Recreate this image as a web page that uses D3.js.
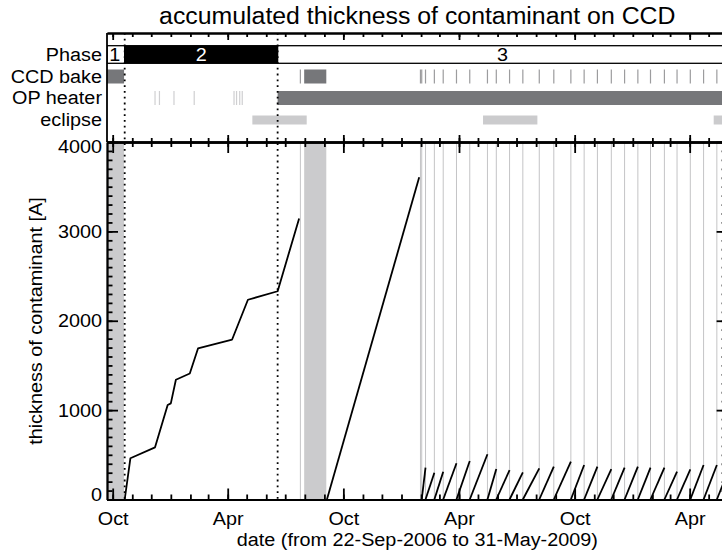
<!DOCTYPE html>
<html><head><meta charset="utf-8">
<script src="https://cdn.jsdelivr.net/npm/d3@7"></script>
<style>body{margin:0;background:#fff}svg{display:block}text{font-family:"Liberation Sans",Arial,Helvetica,sans-serif}</style>
</head><body>
<svg id="c" width="722" height="558"></svg>
<script>
// ---------------- data ----------------
const titleText = "accumulated thickness of contaminant on CCD";
const xLabelText = "date (from 22-Sep-2006 to 31-May-2009)";
const yLabelText = "thickness of contaminant [A]";
const dateStart = "2006-09-22";
const dateEnd = "2009-05-31";

const rowLabels = ["Phase", "CCD bake", "OP heater", "eclipse"];

const phaseNames = ["1", "2", "3"];
const phaseStart = ["2006-09-22", "2006-10-20", "2007-06-19"];
const phaseEnd   = ["2006-10-20", "2007-06-19", "2009-05-31"];
const phaseBoundaries = ["2006-10-20", "2007-06-19"];

// long CCD bakes (bands)
const bakeStart = ["2006-09-22", "2007-07-31"];
const bakeEnd   = ["2006-10-19", "2007-09-04"];
// short CCD bakes (single lines)
const shortBakes = ["2007-07-25", "2008-01-31", "2008-02-02", "2008-02-08", "2008-02-22", "2008-03-07",
  "2008-03-28", "2008-04-18", "2008-05-16", "2008-05-30", "2008-06-20", "2008-07-11", "2008-08-06",
  "2008-08-29", "2008-09-25", "2008-10-16", "2008-11-06", "2008-11-28", "2008-12-19", "2009-01-09",
  "2009-01-29", "2009-02-20", "2009-03-12", "2009-04-02", "2009-04-23", "2009-05-14"];

// OP heater
const opShort = ["2006-12-07", "2006-12-14", "2007-01-06", "2007-02-07", "2007-04-11", "2007-04-15", "2007-04-20", "2007-04-24"];
const opStart = ["2007-06-19"];
const opEnd   = ["2009-05-31"];

// eclipse seasons
const eclStart = ["2007-05-10", "2008-05-09", "2009-05-09"];
const eclEnd   = ["2007-08-04", "2008-08-03", "2009-08-04"];

// contaminant thickness, phases 1-2
const curve1Dates = ["2006-10-20", "2006-10-29", "2006-12-07", "2006-12-27", "2007-01-01", "2007-01-09",
  "2007-01-31", "2007-02-13", "2007-04-08", "2007-05-03", "2007-06-19", "2007-07-23"];
const curve1Vals = [0, 461, 584, 1057, 1076, 1340, 1410, 1690, 1790, 2235, 2330, 3145];
// after the summer bake
const curve2Dates = ["2007-09-05", "2008-01-29"];
const curve2Vals = [0, 3605];
// sawtooth between frequent bakes
const sawStart = ["2008-02-02", "2008-02-08", "2008-02-22", "2008-03-07", "2008-03-28", "2008-04-18",
  "2008-05-16", "2008-05-30", "2008-06-20", "2008-07-11", "2008-08-06", "2008-08-29", "2008-09-25",
  "2008-10-16", "2008-11-06", "2008-11-28", "2008-12-19", "2009-01-09", "2009-01-29", "2009-02-20",
  "2009-03-12", "2009-04-02", "2009-04-23", "2009-05-14"];
const sawEnd = ["2008-02-08", "2008-02-22", "2008-03-07", "2008-03-28", "2008-04-18", "2008-05-16",
  "2008-05-30", "2008-06-20", "2008-07-11", "2008-08-06", "2008-08-29", "2008-09-25", "2008-10-16",
  "2008-11-06", "2008-11-28", "2008-12-19", "2009-01-09", "2009-01-29", "2009-02-20", "2009-03-12",
  "2009-04-02", "2009-04-23", "2009-05-14", "2009-05-31"];
const sawPeak = [356, 300, 311, 405, 431, 506, 341, 330, 304, 349, 367, 423, 386, 367, 341, 356, 367, 356, 356, 311, 338, 386, 386, 300];

const xTickDates = ["2006-10-01", "2007-04-01", "2007-10-01", "2008-04-01", "2008-10-01", "2009-04-01"];
const xTickLabels = ["Oct", "Apr", "Oct", "Apr", "Oct", "Apr"];
const yTicks = [0, 1000, 2000, 3000, 4000];

// ---------------- layout ----------------
const L = 107, R = 727.6, TOPY = 33, MID = 142, BOT = 499.5;
const rows = { phase: [45.7, 63.3], bake: [69.5, 83.5], op: [91, 105], ecl: [115.5, 124.5] };
const DARK = "#76777a", LIGHT = "#cbcbcd";
const FS = 18, STRETCH = 1.1;

const parse = d3.utcParse("%Y-%m-%d");
const x = d3.scaleUtc().domain([parse(dateStart), parse(dateEnd)]).range([L, R]);
const y = d3.scaleLinear().domain([0, 4000]).range([BOT, MID]);

const svg = d3.select("#c");
const defs = svg.append("defs");
defs.append("clipPath").attr("id", "clipLow").append("rect").attr("x", L).attr("y", MID).attr("width", R - L).attr("height", BOT - MID);
defs.append("clipPath").attr("id", "clipTop").append("rect").attr("x", L).attr("y", TOPY).attr("width", R - L).attr("height", MID - TOPY);

function stretch(sel, k) {
  sel.each(function () {
    const w = this.getComputedTextLength();
    this.setAttribute("textLength", w * (k || STRETCH));
    this.setAttribute("lengthAdjust", "spacingAndGlyphs");
  });
}

// ---------- lower panel ----------
const low = svg.append("g").attr("clip-path", "url(#clipLow)");
low.selectAll("rect.bake").data(d3.zip(bakeStart, bakeEnd)).join("rect")
  .attr("x", d => x(parse(d[0]))).attr("width", d => x(parse(d[1])) - x(parse(d[0])))
  .attr("y", MID).attr("height", BOT - MID).attr("fill", LIGHT);
low.selectAll("line.sb").data(shortBakes).join("line")
  .attr("x1", d => x(parse(d))).attr("x2", d => x(parse(d)))
  .attr("y1", MID).attr("y2", BOT).attr("stroke", "#c4c4c6").attr("stroke-width", 1);

const line = d3.line().x(d => x(d[0])).y(d => y(d[1]));
const segs = [];
segs.push(curve1Dates.map((d, i) => [parse(d), curve1Vals[i]]));
segs.push(curve2Dates.map((d, i) => [parse(d), curve2Vals[i]]));
sawStart.forEach((d, i) => segs.push([[parse(d), 0], [parse(sawEnd[i]), sawPeak[i]]]));
low.selectAll("path.data").data(segs).join("path")
  .attr("d", line).attr("fill", "none").attr("stroke", "#000").attr("stroke-width", 1.8)
  .attr("stroke-linejoin", "round");

// ---------- top panel ----------
const upper = svg.append("g").attr("clip-path", "url(#clipTop)");
// phase row
upper.selectAll("rect.ph").data(phaseNames).join("rect")
  .attr("x", (d, i) => x(parse(phaseStart[i]))).attr("width", (d, i) => x(parse(phaseEnd[i])) - x(parse(phaseStart[i])))
  .attr("y", rows.phase[0]).attr("height", rows.phase[1] - rows.phase[0])
  .attr("fill", (d, i) => i === 1 ? "#000" : "#fff").attr("stroke", "#000").attr("stroke-width", 1.3);
const phTxt = upper.selectAll("text.ph").data(phaseNames).join("text")
  .attr("x", (d, i) => (x(parse(phaseStart[i])) + x(parse(phaseEnd[i]))) / 2 + (i === 0 ? -1 : 0))
  .attr("y", 61).attr("text-anchor", "middle").attr("font-size", FS)
  .attr("fill", (d, i) => i === 1 ? "#fff" : "#000").text(d => d);
stretch(phTxt);
// CCD bake row
upper.selectAll("rect.bk").data(d3.zip(bakeStart, bakeEnd)).join("rect")
  .attr("x", d => x(parse(d[0]))).attr("width", d => x(parse(d[1])) - x(parse(d[0])))
  .attr("y", rows.bake[0]).attr("height", rows.bake[1] - rows.bake[0]).attr("fill", DARK);
upper.selectAll("line.bk").data(shortBakes).join("line")
  .attr("x1", d => x(parse(d))).attr("x2", d => x(parse(d)))
  .attr("y1", rows.bake[0]).attr("y2", rows.bake[1]).attr("stroke", "#9c9c9e").attr("stroke-width", 1.2);
// OP heater row
upper.selectAll("line.op").data(opShort).join("line")
  .attr("x1", d => x(parse(d))).attr("x2", d => x(parse(d)))
  .attr("y1", rows.op[0]).attr("y2", rows.op[1]).attr("stroke", "#cfcfd1").attr("stroke-width", 1.2);
upper.selectAll("rect.op").data(d3.zip(opStart, opEnd)).join("rect")
  .attr("x", d => x(parse(d[0]))).attr("width", d => x(parse(d[1])) - x(parse(d[0])))
  .attr("y", rows.op[0]).attr("height", rows.op[1] - rows.op[0]).attr("fill", DARK);
// eclipse row
upper.selectAll("rect.ec").data(d3.zip(eclStart, eclEnd)).join("rect")
  .attr("x", d => x(parse(d[0]))).attr("width", d => x(parse(d[1])) - x(parse(d[0])))
  .attr("y", rows.ecl[0]).attr("height", rows.ecl[1] - rows.ecl[0]).attr("fill", LIGHT);

// phase boundary dotted lines
svg.selectAll("line.pb").data(phaseBoundaries).join("line")
  .attr("x1", d => x(parse(d))).attr("x2", d => x(parse(d)))
  .attr("y1", TOPY).attr("y2", BOT).attr("stroke", "#000").attr("stroke-width", 1.8)
  .attr("stroke-dasharray", "1.8,4");

// row labels
const rowY = [rows.phase, rows.bake, rows.op, rows.ecl].map(r => (r[0] + r[1]) / 2 + 6.4);
const rl = svg.selectAll("text.rl").data(rowLabels).join("text")
  .attr("x", 102).attr("y", (d, i) => rowY[i]).attr("text-anchor", "end").attr("font-size", FS).text(d => d);
stretch(rl);

// ---------- axes ----------
const months = x.ticks(d3.utcMonth.every(1));
const majors = xTickDates.map(parse);
const AX_W = 1.8;
function styleAxis(g) {
  g.selectAll("path,line").attr("stroke", "#000").attr("stroke-width", AX_W);
  g.attr("font-family", null).attr("font-size", null);
  return g;
}
function xAxis(fn, yPos, minorLen, majorLen, withLabels) {
  styleAxis(svg.append("g").attr("transform", `translate(0,${yPos})`)
    .call(fn(x).tickValues(months).tickSizeInner(minorLen).tickSizeOuter(0).tickFormat("")));
  const g = svg.append("g").attr("transform", `translate(0,${yPos})`)
    .call(fn(x).tickValues(majors).tickSizeInner(majorLen).tickSizeOuter(0).tickPadding(12.7)
      .tickFormat(withLabels ? (d, i) => xTickLabels[i] : ""));
  styleAxis(g);
  if (withLabels) { g.selectAll("text").attr("font-size", FS).attr("fill", "#000"); stretch(g.selectAll("text")); }
  else g.selectAll("text").remove();
}
xAxis(d3.axisTop, TOPY, -4, -7, false);      // top of upper panel
xAxis(d3.axisBottom, MID, -4, -7, false);    // bottom of upper panel
xAxis(d3.axisTop, MID, -5, -11, false);      // top of lower panel
xAxis(d3.axisBottom, BOT, -5, -11, true);    // bottom of lower panel

// left border of upper panel
svg.append("line").attr("x1", L).attr("x2", L).attr("y1", TOPY).attr("y2", MID)
  .attr("stroke", "#000").attr("stroke-width", AX_W);

const yMinor = y.ticks(40);
function yAxis(fn, xPos, minorLen, majorLen, withLabels) {
  styleAxis(svg.append("g").attr("transform", `translate(${xPos},0)`)
    .call(fn(y).tickValues(yMinor).tickSizeInner(minorLen).tickSizeOuter(0).tickFormat("")));
  const g = svg.append("g").attr("transform", `translate(${xPos},0)`)
    .call(fn(y).tickValues(yTicks).tickSizeInner(majorLen).tickSizeOuter(0).tickPadding(5)
      .tickFormat(withLabels ? d3.format("d") : ""));
  styleAxis(g);
  if (withLabels) {
    g.selectAll("text").attr("font-size", FS).attr("fill", "#000")
      .attr("dy", d => d === 4000 ? "0.58em" : d === 0 ? "0.08em" : "0.34em");
    stretch(g.selectAll("text"));
  } else g.selectAll("text").remove();
}
yAxis(d3.axisLeft, L, -5.5, -11, true);
yAxis(d3.axisRight, R, -6, -11, false);

// titles
stretch(svg.append("text").attr("x", (L + R) / 2).attr("y", 24).attr("text-anchor", "middle")
  .attr("font-size", 23).text(titleText), 1.08);
stretch(svg.append("text").attr("x", (L + R) / 2).attr("y", 546).attr("text-anchor", "middle")
  .attr("font-size", FS).text(xLabelText));
stretch(svg.append("text").attr("transform", "translate(42,321) rotate(-90)").attr("text-anchor", "middle")
  .attr("font-size", FS).text(yLabelText));
</script>
</body></html>
